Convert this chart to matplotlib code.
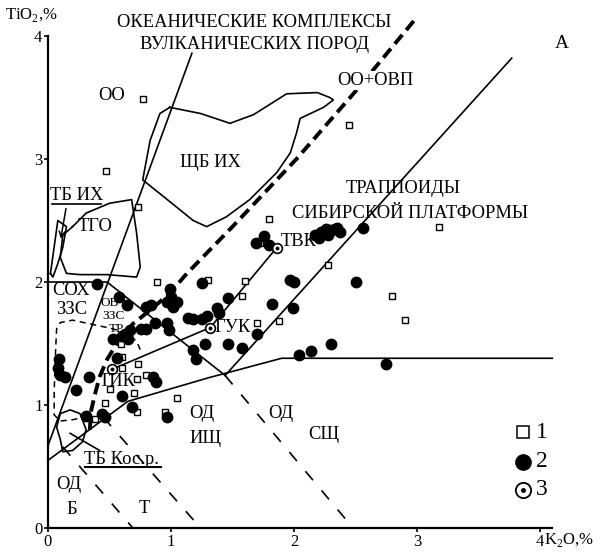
import numpy as np
import matplotlib
matplotlib.use("Agg")
import matplotlib.pyplot as plt

plt.rcParams['font.family'] = ['Liberation Serif', 'DejaVu Serif']
plt.rcParams['mathtext.fontset'] = 'custom'
plt.rcParams['mathtext.rm'] = 'Liberation Serif'

# ===== DATA =====
# 1 - squares (K2O, TiO2)
sq_x = [0.77, 0.47, 0.73, 1.80, 1.72, 2.45, 3.18, 2.28, 2.80, 2.90, 0.89, 1.30, 1.60,
        1.58, 1.70, 1.88, 0.59, 0.60, 0.73, 0.60, 0.80, 0.72, 0.50, 0.70, 0.46, 1.05,
        0.72, 0.95, 0.38]
sq_y = [3.49, 2.90, 2.61, 2.51, 2.32, 3.28, 2.45, 2.14, 1.89, 1.69, 2.00, 2.02, 2.01,
        1.89, 1.67, 1.68, 1.50, 1.39, 1.33, 1.30, 1.24, 1.21, 1.13, 1.10, 1.02, 1.06,
        0.94, 0.94, 0.89]

# 2 - filled circles
ci_x = [0.09, 0.08, 0.10, 0.14, 0.33, 0.23, 0.31, 0.44, 0.46, 0.60, 0.68, 0.97, 0.56, 0.40,
        0.58, 0.64, 0.80, 0.84, 0.99, 1.00, 0.97, 1.05, 1.02, 0.87, 0.97, 0.76, 0.80, 0.67,
        0.63, 0.65, 0.53, 0.60, 0.98, 0.85, 0.88, 1.14,
        1.25, 1.46, 1.37, 1.39, 1.29, 1.18, 1.25, 1.46, 1.28, 1.18, 1.20, 1.58, 1.70, 1.82,
        1.99, 1.97, 2.00, 1.76, 1.69, 1.80,
        2.17, 2.22, 2.26, 2.30, 2.33, 2.37, 2.20, 2.25, 2.28, 2.35, 2.56,
        2.50, 2.30, 2.14, 2.04, 2.75]
ci_y = [1.37, 1.30, 1.24, 1.23, 1.23, 1.12, 0.91, 0.93, 0.90, 1.07, 0.98, 0.90, 1.38, 1.98,
        1.88, 1.81, 1.80, 1.81, 1.94, 1.88, 1.84, 1.84, 1.80, 1.67, 1.67, 1.62, 1.62, 1.61,
        1.58, 1.54, 1.54, 1.56, 1.61, 1.23, 1.19, 1.71,
        1.99, 1.87, 1.79, 1.75, 1.72, 1.70, 1.70, 1.50, 1.50, 1.45, 1.37, 1.46, 1.58, 1.82,
        1.79, 2.02, 2.00, 2.37, 2.32, 2.30,
        2.38, 2.41, 2.43, 2.42, 2.43, 2.41, 2.36, 2.40, 2.38, 2.44, 2.44,
        2.00, 1.50, 1.44, 1.41, 1.33]

# 3 - average compositions (ТИК, ГУК, ТВК)
avg_x = [0.52, 1.32, 1.86]
avg_y = [1.29, 1.63, 2.28]

# field boundaries
l1_x, l1_y = [0, 0.65, 1.30, 1.90, 4.10], [0.55, 1.03, 1.22, 1.38, 1.38]
l2_x, l2_y = [1.44, 3.77], [1.24, 3.82]
l3_x, l3_y = [0, 0.48, 1.44], [2.0, 2.0, 1.24]
l4_x, l4_y = [0, 1.17], [0.67, 3.86]
tie_x, tie_y = [0.52, 1.32, 1.86], [1.29, 1.63, 2.28]
d1_x, d1_y = [0.12, 0.69], [0.66, 0.0]
d2_x, d2_y = [0.45, 1.24], [0.90, 0.0]
d3_x, d3_y = [1.44, 2.48], [1.24, 0.0]
thick_x = [0.34, 0.35, 0.38, 0.42, 0.48, 0.56, 0.69, 0.83, 0.99, 1.13, 1.50, 2.02, 2.50, 2.98]
thick_y = [0.80, 0.95, 1.08, 1.23, 1.37, 1.50, 1.66, 1.77, 1.91, 2.07, 2.45, 3.00, 3.55, 4.13]
shb_x = [0.99, 1.24, 1.48, 1.67, 1.94, 2.19, 2.29, 2.32, 2.24, 2.05, 2.02, 1.97, 1.86,
         1.64, 1.45, 1.29, 1.18, 0.97, 0.77, 0.83, 0.91, 0.99]
shb_y = [3.42, 3.37, 3.29, 3.36, 3.53, 3.54, 3.50, 3.48, 3.42, 3.33, 3.21, 3.05, 2.89,
         2.67, 2.53, 2.45, 2.50, 2.67, 2.83, 3.15, 3.37, 3.42]
tgo_x = [0.20, 0.31, 0.50, 0.68, 0.72, 0.75, 0.72, 0.48, 0.26, 0.15, 0.10, 0.12, 0.20]
tgo_y = [2.45, 2.56, 2.64, 2.67, 2.40, 2.12, 2.04, 2.06, 2.06, 2.07, 2.20, 2.38, 2.45]
tbih_x = [0.02, 0.08, 0.15, 0.12, 0.08, 0.04, 0.02]
tbih_y = [2.07, 2.50, 2.45, 2.28, 2.15, 2.04, 2.07]
tik_x = [0.75, 0.72, 0.60, 0.48, 0.34, 0.20, 0.10, 0.07, 0.06, 0.05, 0.05, 0.10, 0.20, 0.33]
tik_y = [1.45, 1.52, 1.60, 1.63, 1.66, 1.69, 1.67, 1.62, 1.40, 1.10, 0.92, 0.87, 0.88, 0.91]
kos_x = [0.10, 0.18, 0.26, 0.31, 0.28, 0.20, 0.12, 0.10, 0.07, 0.10]
kos_y = [0.93, 0.96, 0.93, 0.80, 0.70, 0.63, 0.62, 0.72, 0.82, 0.93]

# ===== PLOT =====
fig = plt.figure(figsize=(6, 5.58), dpi=100)
ax = fig.add_axes([48 / 600, 30 / 558, 552 / 600, 528 / 558])
ax.set_xlim(0, 552 / 123)
ax.set_ylim(0, 528 / 123)

k = dict(color='black', lw=1.2, clip_on=False)
ax.plot(l1_x, l1_y, **k)
ax.plot(l2_x, l2_y, **k)
ax.plot(l3_x, l3_y, **k)
ax.plot(l4_x, l4_y, **k)
ax.plot(tie_x, tie_y, **k)
ax.plot(shb_x, shb_y, **k)
ax.plot(tgo_x, tgo_y, **k)
ax.plot(tbih_x, tbih_y, **k)
ax.plot(kos_x, kos_y, **k)
ax.plot([0.18, 0.42], [0.77, 0.63], **k)
ax.annotate('', xy=(0.10, 2.33), xytext=(0.15, 2.62),
            arrowprops=dict(arrowstyle='->', color='black', lw=1.1))

dk = dict(color='black', lw=1.2, linestyle=(0, (7, 8)))
ax.plot(d1_x, d1_y, **dk)
ax.plot(d2_x, d2_y, **dk)
ax.plot(d3_x, d3_y, **dk)
ax.plot(tik_x, tik_y, color='black', lw=1.1, linestyle=(0, (4, 3)))
ax.plot(thick_x, thick_y, color='black', lw=2.8, linestyle=(0, (3, 1.6)), clip_on=False)

ax.plot(sq_x, sq_y, 's', ms=5, mfc='white', mec='black', mew=1.0, ls='none')
ax.plot(ci_x, ci_y, 'o', ms=7.5, mfc='black', mec='black', ls='none')
ax.plot(avg_x, avg_y, 'o', ms=7, mfc='white', mec='black', mew=1.2, ls='none')
ax.plot(avg_x, avg_y, 'o', ms=1.8, color='black', ls='none')

# legend
ax.plot([3.86], [0.78], 's', ms=9, mfc='white', mec='black', mew=1.1)
ax.plot([3.86], [0.54], 'o', ms=11, color='black')
ax.plot([3.86], [0.31], 'o', ms=11, mfc='white', mec='black', mew=1.3)
ax.plot([3.86], [0.31], 'o', ms=2.5, color='black')
for yy, t in zip([0.78, 0.54, 0.31], ['1', '2', '3']):
    ax.text(3.97, yy, t, fontsize=17, va='center', ha='left')

# labels
fs = 13.3
wb = dict(facecolor='white', edgecolor='none', pad=0.5)
ax.text(1.68, 4.11, 'ОКЕАНИЧЕСКИЕ КОМПЛЕКСЫ', fontsize=fs, ha='center', va='center')
ax.text(1.68, 3.93, 'ВУЛКАНИЧЕСКИХ ПОРОД', fontsize=fs, ha='center', va='center')
ax.text(4.18, 3.94, 'А', fontsize=14, ha='center', va='center')
ax.text(0.52, 3.52, 'ОО', fontsize=fs, ha='center', va='center')
ax.text(2.66, 3.64, 'ОО+ОВП', fontsize=fs, ha='center', va='center', bbox=wb, zorder=5)
ax.text(1.32, 2.97, 'ЩБ ИХ', fontsize=fs, ha='center', va='center')
ax.text(0.23, 2.70, 'ТБ ИХ', fontsize=fs, ha='center', va='center')
ax.plot([0.03, 0.43], [2.635, 2.635], color='black', lw=1.2)
ax.text(0.38, 2.45, 'ТГО', fontsize=fs, ha='center', va='center')
ax.text(2.89, 2.76, 'ТРАППОИДЫ', fontsize=fs, ha='center', va='center')
ax.text(2.94, 2.56, 'СИБИРСКОЙ ПЛАТФОРМЫ', fontsize=fs, ha='center', va='center')
ax.text(1.89, 2.33, 'ТВК', fontsize=fs, ha='left', va='center')
ax.text(0.19, 1.93, 'СОХ', fontsize=fs, ha='center', va='center')
ax.text(0.19, 1.78, 'ЗЗС', fontsize=fs, ha='center', va='center')
ax.text(0.50, 1.83, 'ОВ', fontsize=9.5, ha='center', va='center')
ax.text(0.53, 1.725, 'ЗЗС', fontsize=9.5, ha='center', va='center')
ax.text(0.56, 1.62, 'ТР', fontsize=9.5, ha='center', va='center')
ax.text(1.35, 1.63, 'ГУК', fontsize=fs, ha='left', va='center')
ax.text(0.56, 1.19, 'ТИК', fontsize=fs, ha='center', va='center')
ax.text(1.25, 0.93, 'ОД', fontsize=fs, ha='center', va='center')
ax.text(1.28, 0.73, 'ИЩ', fontsize=fs, ha='center', va='center')
ax.text(1.89, 0.93, 'ОД', fontsize=fs, ha='center', va='center')
ax.text(2.24, 0.76, 'СЩ', fontsize=fs, ha='center', va='center')
ax.text(0.60, 0.56, 'ТБ Кос.р.', fontsize=fs, ha='center', va='center')
ax.plot([0.30, 0.92], [0.495, 0.495], color='black', lw=1.5)
ax.text(0.17, 0.35, 'ОД', fontsize=fs, ha='center', va='center')
ax.text(0.19, 0.15, 'Б', fontsize=fs, ha='center', va='center')
ax.text(0.78, 0.16, 'Т', fontsize=fs, ha='center', va='center')

# axes
for s in ['top', 'right']:
    ax.spines[s].set_visible(False)
ax.spines['left'].set_bounds(0, 4)
ax.spines['bottom'].set_bounds(0, 4.1)
ax.spines['left'].set_linewidth(1.6)
ax.spines['bottom'].set_linewidth(1.6)
ax.set_xticks([0, 1, 2, 3, 4])
ax.set_yticks([0, 1, 2, 3, 4])
ax.tick_params(direction='out', length=3, width=1.2, labelsize=12, pad=1)
ax.text(-0.35, 4.17, 'TiO$_\\mathregular{2}$,%', fontsize=12, ha='left', va='center')
ax.text(4.03, -0.1, 'K$_\\mathregular{2}$O,%', fontsize=12, ha='left', va='center')

plt.savefig('out.png', dpi=100)
